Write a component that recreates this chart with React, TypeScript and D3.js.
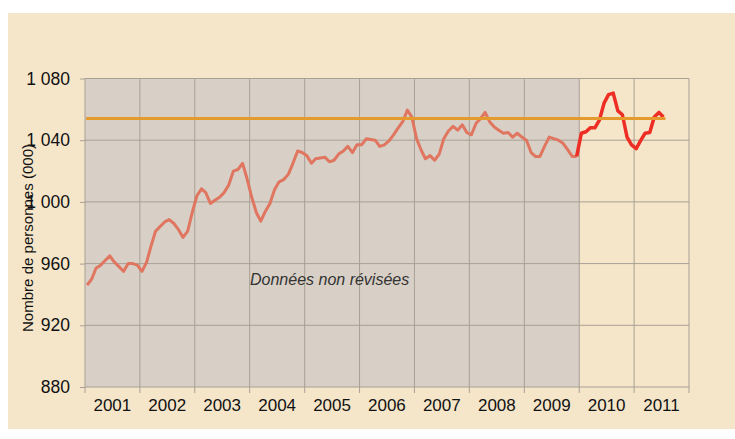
import React, { useEffect, useRef } from 'react';
import * as d3 from 'd3';

// monthly values, Jan 2001 - Dec 2009 (non revised)
const nonRevised = [
  946, 950, 957, 959, 962, 965, 961, 958, 955, 960, 960, 959,
  955, 961, 971, 981, 984, 987, 988.5, 986, 982, 977, 981, 993,
  1004, 1008.5, 1006, 999, 1001, 1003, 1006, 1011, 1020, 1021, 1025, 1015,
  1003, 993, 987.5, 994, 999, 1008, 1013, 1014.5, 1018, 1025, 1033, 1032,
  1030, 1025, 1028, 1028.5, 1029, 1026, 1027, 1031, 1033, 1036, 1032, 1037,
  1037, 1041, 1040.5, 1040, 1036, 1037, 1039.5, 1043.5, 1048, 1052, 1059.5, 1055,
  1041, 1033.5, 1028, 1030, 1027, 1031, 1041, 1046, 1049, 1046.5, 1050, 1045,
  1043.5, 1051, 1054, 1058, 1052, 1048.5, 1046.5, 1044.5, 1045, 1042, 1044.5, 1042,
  1040, 1032, 1029.5, 1029.5, 1036, 1042, 1041, 1040, 1038, 1034, 1029.5, 1029.5
];
// Dec 2009 - Jul 2011 (revised)
const revised = [
  1029.5, 1044.5, 1045.5, 1048, 1048, 1053, 1064, 1069.5, 1070.5, 1059,
  1056.5, 1042, 1037, 1034.5, 1040, 1044.5, 1045, 1055, 1058, 1055
];
const revisedStart = 107;
const averageValue = 1054;
const averageMonths = 127;

const years = [2001, 2002, 2003, 2004, 2005, 2006, 2007, 2008, 2009, 2010, 2011];
const yTicks = [880, 920, 960, 1000, 1040, 1080];
const yTitle = 'Nombre de personnes (000)';
const shadeLabel = 'Données non révisées';

const W = 735;
const H = 439;

const monthDate = (i: number) => new Date(2001, i, 15);

export default function App() {
  const ref = useRef<SVGSVGElement>(null);

  useEffect(() => {
    const svg = d3.select(ref.current);
    svg.selectAll('*').remove();

    const x = d3.scaleTime()
      .domain([new Date(2001, 0, 1), new Date(2012, 0, 1)])
      .range([85, 689]);
    const y = d3.scaleLinear().domain([880, 1080]).range([387, 78.5]);

    const font = 'Liberation Sans, Arial, sans-serif';

    svg.append('rect')
      .attr('x', 8).attr('y', 13).attr('width', W - 8).attr('height', 416)
      .attr('fill', '#F5E6CA');

    // shaded region (non revised data)
    svg.append('rect')
      .attr('x', x(new Date(2001, 0, 1)))
      .attr('y', y(1080))
      .attr('width', x(new Date(2010, 0, 1)) - x(new Date(2001, 0, 1)))
      .attr('height', y(880) - y(1080))
      .attr('fill', '#D8D0C6');

    const grid = '#A89F95';
    // horizontal grid
    svg.append('g').selectAll('line')
      .data(yTicks)
      .join('line')
      .attr('x1', 85).attr('x2', 689)
      .attr('y1', d => y(d)).attr('y2', d => y(d))
      .attr('stroke', grid).attr('stroke-width', 1);

    // vertical grid + x ticks
    const bounds = d3.range(2001, 2013).map(yr => new Date(yr, 0, 1));
    svg.append('g').selectAll('line')
      .data(bounds)
      .join('line')
      .attr('x1', d => x(d)).attr('x2', d => x(d))
      .attr('y1', y(1080)).attr('y2', y(880) + 6)
      .attr('stroke', grid).attr('stroke-width', 1);

    // y axis
    const fmt = d3.formatLocale({ decimal: ',', thousands: ' ', grouping: [3], currency: ['', ' €'] }).format(',d');
    const yAxis = svg.append('g')
      .attr('transform', 'translate(85,0)')
      .call(d3.axisLeft(y).tickValues(yTicks).tickSize(5).tickPadding(10).tickFormat(d => fmt(d as number)));
    yAxis.select('.domain').remove();
    yAxis.selectAll('line').attr('stroke', grid);
    yAxis.selectAll('text')
      .attr('font-family', font).attr('font-size', 17.5).attr('fill', '#111');

    // x labels
    svg.append('g').selectAll('text')
      .data(years)
      .join('text')
      .attr('x', d => x(new Date(d, 6, 2)))
      .attr('y', 411)
      .attr('text-anchor', 'middle')
      .attr('font-family', font).attr('font-size', 17).attr('fill', '#111')
      .text(d => d);

    // y title
    svg.append('text')
      .attr('transform', `translate(33,238) rotate(-90)`)
      .attr('text-anchor', 'middle')
      .attr('font-family', font).attr('font-size', 15).attr('fill', '#111')
      .attr('textLength', 188).attr('lengthAdjust', 'spacingAndGlyphs')
      .text(yTitle);

    // annotation
    svg.append('text')
      .attr('x', 250).attr('y', 285)
      .attr('font-family', font).attr('font-size', 16).attr('font-style', 'italic')
      .attr('fill', '#333')
      .text(shadeLabel);

    const line = d3.line<number>()
      .x((_, i) => x(monthDate(i)))
      .y(d => y(d));

    svg.append('path')
      .datum(nonRevised)
      .attr('d', line)
      .attr('fill', 'none').attr('stroke', '#E07560').attr('stroke-width', 3)
      .attr('stroke-linejoin', 'round');

    const line2 = d3.line<number>()
      .x((_, i) => x(monthDate(i + revisedStart)))
      .y(d => y(d));
    svg.append('path')
      .datum(revised)
      .attr('d', line2)
      .attr('fill', 'none').attr('stroke', '#EE2D24').attr('stroke-width', 3.5)
      .attr('stroke-linejoin', 'round');

    // average
    svg.append('line')
      .attr('x1', x(monthDate(0)) - 1).attr('x2', x(monthDate(averageMonths - 1)) + 2)
      .attr('y1', y(averageValue)).attr('y2', y(averageValue))
      .attr('stroke', '#E59A2E').attr('stroke-width', 3);
  }, []);

  return (
    <svg ref={ref} width={W} height={H}
      style={{ position: 'absolute', left: 0, top: 0, background: '#fff' }} />
  );
}
